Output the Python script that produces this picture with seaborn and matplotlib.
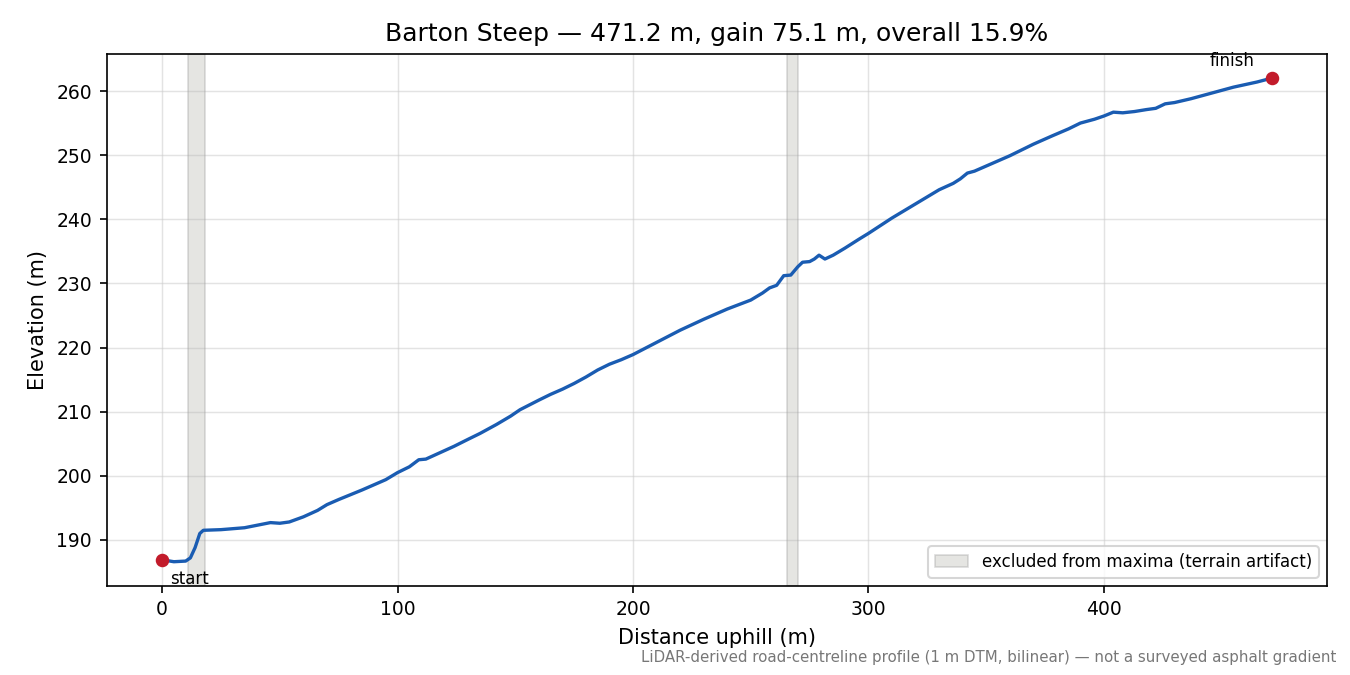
#!/usr/bin/env python3
# -*- coding: utf-8 -*-
"""
Barton Steep elevation profile (LiDAR-derived).
"""
import numpy as np
import pandas as pd
import matplotlib
matplotlib.use("Agg")
import matplotlib.pyplot as plt
import seaborn as sns

# ========= DATA ==========
distance_m = [0, 5, 10, 12, 14, 16, 17.5, 25, 35, 46, 50, 54, 60, 66, 70, 75, 85, 95,
              100, 105, 109, 112, 118, 124, 130, 135, 142, 148, 152, 160, 165, 170, 175,
              180, 185, 190, 195, 200, 210, 220, 230, 240, 250, 255, 258, 261, 264, 267,
              270, 272, 275, 277, 279, 281.5, 285, 290, 296, 300, 310, 320, 330, 336, 339,
              342, 345, 350, 360, 370, 378, 385, 390, 396, 400, 404, 408, 413, 418, 422,
              426, 430, 437, 445, 455, 465, 471.2]
elevation_m = [186.9, 186.6, 186.7, 187.2, 188.8, 191.0, 191.5, 191.6, 191.9, 192.7, 192.6,
               192.8, 193.6, 194.6, 195.5, 196.3, 197.8, 199.4, 200.5, 201.4, 202.5, 202.6,
               203.6, 204.6, 205.7, 206.6, 208.0, 209.3, 210.3, 211.8, 212.7, 213.5, 214.4,
               215.4, 216.5, 217.4, 218.1, 218.9, 220.8, 222.7, 224.4, 226.0, 227.4, 228.5,
               229.3, 229.7, 231.2, 231.3, 232.6, 233.3, 233.4, 233.8, 234.4, 233.8, 234.4,
               235.5, 236.9, 237.8, 240.2, 242.4, 244.6, 245.6, 246.3, 247.2, 247.5, 248.3,
               249.9, 251.7, 253.0, 254.1, 255.0, 255.6, 256.1, 256.7, 256.6, 256.8, 257.1,
               257.3, 258.0, 258.2, 258.8, 259.6, 260.6, 261.4, 262.0]

artifact_spans = [(11.0, 18.0), (265.5, 270.0)]
endpoint_labels = ["start", "finish"]

TITLE = "Barton Steep \u2014 471.2 m, gain 75.1 m, overall 15.9%"
FOOTER = ("LiDAR-derived road-centreline profile (1 m DTM, bilinear) \u2014 "
          "not a surveyed asphalt gradient")

LINE_COLOR = "#1a5cb2"
POINT_COLOR = "#c21b2b"
SPAN_COLOR = "#b5b5ae"

# ========= PLOT ==========
plt.style.use("default")
plt.rcParams["font.family"] = ["DejaVu Sans"]

df = pd.DataFrame({"distance": distance_m, "elevation": elevation_m})

fig, ax = plt.subplots(figsize=(9, 4.5), dpi=150)

for i, (a, b) in enumerate(artifact_spans):
    ax.axvspan(a, b, facecolor=SPAN_COLOR, edgecolor="#999999", alpha=0.35, lw=0.8,
               label="excluded from maxima (terrain artifact)" if i == 0 else None)

sns.lineplot(data=df, x="distance", y="elevation", ax=ax, color=LINE_COLOR,
             lw=1.6, zorder=3)

ends = df.iloc[[0, -1]]
ax.scatter(ends["distance"], ends["elevation"], color=POINT_COLOR, s=30, zorder=4)
ax.annotate(endpoint_labels[0], (ends["distance"].iloc[0], ends["elevation"].iloc[0]),
            xytext=(4, -5), textcoords="offset points", ha="left", va="top", fontsize=8)
ax.annotate(endpoint_labels[1], (ends["distance"].iloc[1], ends["elevation"].iloc[1]),
            xytext=(-8, 4), textcoords="offset points", ha="right", va="bottom", fontsize=8)

ax.set_title(TITLE, fontsize=12)
ax.set_xlabel("Distance uphill (m)", fontsize=10)
ax.set_ylabel("Elevation (m)", fontsize=10)
ax.tick_params(labelsize=9)
ax.grid(True, color="#cccccc", alpha=0.55, lw=0.7)
ax.set_axisbelow(True)
ax.legend(loc="lower right", fontsize=8)

fig.subplots_adjust(left=0.079, right=0.983, top=0.92, bottom=0.132)
fig.text(0.99, 0.015, FOOTER, ha="right", va="bottom", fontsize=7.2, color="#777777")

fig.savefig("out.png", dpi=150)
